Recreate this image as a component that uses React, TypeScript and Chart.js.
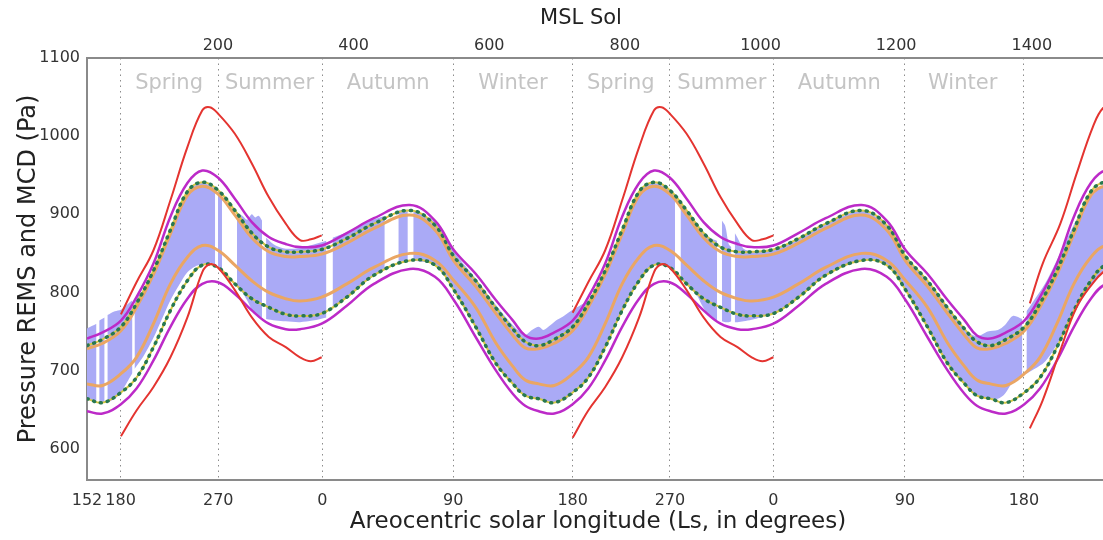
import React, { useEffect, useRef } from 'react';
import { Chart, registerables } from 'chart.js';

Chart.register(...registerables);

const FONT = '"DejaVu Sans", "Liberation Sans", sans-serif';

// ---- axes ----
const X_MIN = 7;
const X_MAX = 1556.5;
const Y_MIN = 560;
const Y_MAX = 1100;
const Y_TICKS = [600, 700, 800, 900, 1000, 1100];
const SOL_TICKS = [200, 400, 600, 800, 1000, 1200, 1400];
const LS_TICK_SOLS = [7, 56.6, 200.5, 353.8, 547, 723, 866.4, 1018.7, 1212.9, 1388.3];
const LS_TICK_LABELS = ['152', '180', '270', '0', '90', '180', '270', '0', '90', '180'];
const TOP_TITLE = 'MSL Sol';
const BOTTOM_TITLE = 'Areocentric solar longitude (Ls, in degrees)';
const Y_TITLE = 'Pressure REMS and MCD (Pa)';

// ---- seasons ----
const SEASON_NAMES = ['Spring', 'Summer', 'Autumn', 'Winter', 'Spring', 'Summer', 'Autumn', 'Winter'];
const SEASON_SOLS = [128, 276, 451, 635, 794, 943, 1116, 1298];

// ---- MCD model curves (sol, Pa) ----
const MCD_SOL = [
  7, 30, 57, 80, 105, 130, 155, 177, 200, 225, 250, 275, 300, 321, 353, 390, 430, 483, 520, 548, 580, 610, 635, 653,
  673, 696, 723, 746, 771, 796, 821, 843, 866, 891, 916, 941, 966, 987, 1019, 1056, 1096, 1149, 1186, 1214, 1246, 1276, 1301, 1319,
  1339, 1362, 1389, 1412, 1437, 1462, 1487, 1509, 1532, 1557,
];
const MAGENTA_UP = [
  741, 749, 764, 794, 837, 897, 940, 956, 947, 920, 890, 871, 862, 858, 860, 876, 895, 912, 892, 854, 824, 790, 764, 745,
  741, 749, 764, 794, 837, 897, 940, 956, 947, 920, 890, 871, 862, 858, 860, 876, 895, 912, 892, 854, 824, 790, 764, 745,
  741, 749, 764, 794, 837, 897, 940, 956, 947, 920,
];
const GREEN_UP = [
  732, 740, 756, 786, 828, 880, 929, 941, 931, 905, 876, 858, 852, 852, 855, 869, 888, 905, 886, 846, 815, 780, 753, 737,
  732, 740, 756, 786, 828, 880, 929, 941, 931, 905, 876, 858, 852, 852, 855, 869, 888, 905, 886, 846, 815, 780, 753, 737,
  732, 740, 756, 786, 828, 880, 929, 941, 931, 905,
];
const ORANGE_UP = [
  728, 735, 751, 781, 823, 875, 924, 936, 926, 899, 870, 852, 846, 846, 849, 863, 882, 899, 880, 840, 808, 773, 745, 729,
  728, 735, 751, 781, 823, 875, 924, 936, 926, 899, 870, 852, 846, 846, 849, 863, 882, 899, 880, 840, 808, 773, 745, 729,
  728, 735, 751, 781, 823, 875, 924, 936, 926, 899,
];
const ORANGE_LO = [
  683, 681, 696, 717, 760, 811, 845, 860, 854, 835, 815, 800, 792, 789, 794, 811, 832, 850, 841, 815, 781, 735, 705, 688,
  683, 681, 696, 717, 760, 811, 845, 860, 854, 835, 815, 800, 792, 789, 794, 811, 832, 850, 841, 815, 781, 735, 705, 688,
  683, 681, 696, 717, 760, 811, 845, 860, 854, 835,
];
const GREEN_LO = [
  664, 659, 672, 691, 730, 777, 815, 835, 832, 811, 792, 781, 772, 770, 773, 794, 822, 841, 835, 803, 756, 709, 683, 668,
  664, 659, 672, 691, 730, 777, 815, 835, 832, 811, 792, 781, 772, 770, 773, 794, 822, 841, 835, 803, 756, 709, 683, 668,
  664, 659, 672, 691, 730, 777, 815, 835, 832, 811,
];
const MAGENTA_LO = [
  648, 645, 657, 677, 713, 756, 792, 811, 813, 798, 777, 760, 753, 753, 760, 783, 811, 830, 820, 790, 743, 700, 670, 655,
  648, 645, 657, 677, 713, 756, 792, 811, 813, 798, 777, 760, 753, 753, 760, 783, 811, 830, 820, 790, 743, 700, 670, 655,
  648, 645, 657, 677, 713, 756, 792, 811, 813, 798,
];

// ---- red curves (spring/summer only) ----
const RED_SOL = [
  57, 80, 105, 130, 155, 177, 188, 200, 225, 250, 275, 300, 321, 337, 353, 360,
  723, 746, 771, 796, 821, 843, 854, 866, 891, 916, 941, 966, 987, 1003, 1019, 1030,
  1397, 1416, 1442, 1466, 1490, 1505, 1520,
];
const RED_UP = [
  772, 813, 854, 918, 986, 1033, 1037, 1029, 1003, 965, 922, 888, 867, 868, 873, null,
  774, 813, 854, 918, 986, 1033, 1037, 1029, 1003, 965, 922, 888, 867, 868, 873, null,
  786, 837, 888, 952, 1012, 1036, 1040,
];
const RED_LO = [
  616, 649, 679, 717, 768, 826, 836, 832, 803, 768, 743, 730, 717, 712, 717, null,
  614, 649, 679, 717, 768, 826, 836, 832, 803, 768, 743, 730, 717, 712, 717, null,
  626, 662, 726, 781, 812, 826, 834,
];

// ---- REMS daily range (band), null = missing data ----
const REMS_SOL = [
  7, 14, 21, 23, 25, 33, 35, 37, 48, 57, 68, 74, 75.5, 77, 90, 105, 118, 130, 143, 155, 166, 177, 188, 196, 198, 200, 206, 217,
  228, 236, 243, 250, 255, 260, 265, 268, 271, 285, 300, 321, 340, 360, 364.5, 369, 390, 420, 446, 451, 457, 461, 466, 480, 484,
  488, 520, 548, 580, 610, 635, 653, 663, 673, 680, 690, 700, 710, 718, 723, 735, 746, 771, 796, 821, 843, 866, 874, 878, 882,
  891, 905, 916, 930, 936, 939.5, 943, 948, 953, 957, 959.5, 962, 966, 975, 987, 1000, 1019, 1037, 1056, 1076, 1096, 1120, 1149,
  1186, 1214, 1246, 1276, 1301, 1319, 1335, 1350, 1360, 1372, 1386, 1389, 1392, 1400, 1420, 1445, 1470, 1490, 1510, 1530,
];
const REMS_MAX = [
  754, 757, 760, null, 764, 768, null, 771, 776, 778, 786, 790, null, 792, 803, 826, 853, 878, 905, 928, 937, 940, 937, 933, null, 931, 925, null,
  903, 898, 893, 900, 896, 898, 892, null, 870, 860, 856, 857, 861, 866, null, 870, 877, 890, 898, null, 903, null, 905, 906, null,
  905, 890, 852, 818, 784, 758, 746, 752, 756, 752, 758, 765, 770, 775, 778, 784, 790, 828, 880, 929, 940, 931, 924, null, 918,
  905, 890, 876, 868, 866, null, 892, 885, 862, 858, null, 876, 870, 856, 853, 853, 855, 861, 869, 878, 888, 897, 905,
  886, 846, 815, 780, 753, 744, 750, 752, 758, 770, 766, null, 776, 786, 812, 856, 900, 925, 940, 942,
];
const REMS_MIN = [
  664, 662, 660, null, 660, 659, null, 659, 664, 672, 688, 697, null, 702, 718, 742, 767, 790, 810, 826, 833, 836, 838, 836, null, 832, 828, null,
  808, 800, 790, 778, 772, 770, 768, null, 766, 764, 763, 762, 764, 768, null, 782, 794, 815, 830, null, 836, null, 839, 841, null,
  841, 835, 803, 756, 709, 683, 668, 664, 664, 662, 660, 660, 662, 667, 672, 682, 691, 730, 777, 815, 835, 832, 828, null, 822,
  811, 798, 780, 765, 764, null, 763, 762, 762, 763, null, 762, 762, 763, 765, 768, 773, 782, 794, 808, 822, 832, 841,
  835, 803, 756, 709, 683, 668, 664, 664, 670, 685, 692, null, 696, 700, 712, 745, 785, 812, 832, 838,
];

const textPlugin = {
  id: 'texts',
  beforeDatasetsDraw(chart: any) {
    const { ctx, chartArea, scales } = chart;
    ctx.save();
    ctx.font = `21px ${FONT}`;
    ctx.fillStyle = '#c4c4c4';
    ctx.textAlign = 'center';
    ctx.textBaseline = 'middle';
    SEASON_NAMES.forEach((name, i) => {
      ctx.fillText(name, scales.x.getPixelForValue(SEASON_SOLS[i]), chartArea.top + 26);
    });
    ctx.restore();
  },
  afterDraw(chart: any) {
    const { ctx } = chart;
    ctx.save();
    ctx.fillStyle = '#222';
    ctx.textAlign = 'center';
    ctx.textBaseline = 'middle';
    ctx.font = `21px ${FONT}`;
    ctx.fillText(TOP_TITLE, 573, 11);
    ctx.font = `23px ${FONT}`;
    ctx.fillText(BOTTOM_TITLE, 590, 514);
    ctx.restore();
  },
};

export default function App() {
  const ref = useRef<HTMLCanvasElement>(null);

  useEffect(() => {
    if (!ref.current) return;
    const toPts = (xs: number[], ys: (number | null)[]) => xs.map((x, i) => ({ x, y: ys[i] }));
    const line = (label: string, xs: number[], ys: (number | null)[], color: string, width: number, extra: any = {}) => ({
      label,
      data: toPts(xs, ys),
      borderColor: color,
      backgroundColor: color,
      borderWidth: width,
      pointRadius: 0,
      fill: false,
      spanGaps: false,
      tension: 0.4,
      ...extra,
    });

    const RED = 'rgb(228,52,48)';
    const MAG = 'rgb(188,42,200)';
    const GREEN = 'rgb(40,120,80)';
    const YEL = 'rgb(214,200,70)';
    const ORA = 'rgb(234,166,100)';
    const BAND = 'rgb(170,170,246)';
    const dots = { borderDash: [1, 6], borderCapStyle: 'round' };

    const chart = new Chart(ref.current, {
      type: 'line',
      data: {
        datasets: [
          line('Red upper', RED_SOL, RED_UP, RED, 2),
          line('Red lower', RED_SOL, RED_LO, RED, 2),
          line('Magenta upper', MCD_SOL, MAGENTA_UP, MAG, 2.5),
          line('Magenta lower', MCD_SOL, MAGENTA_LO, MAG, 2.5),
          line('Green upper', MCD_SOL, GREEN_UP, GREEN, 3.5, dots),
          line('Green lower', MCD_SOL, GREEN_LO, GREEN, 3.5, dots),
          line('Yellow upper', MCD_SOL, GREEN_UP, YEL, 2),
          line('Yellow lower', MCD_SOL, GREEN_LO, YEL, 2),
          line('Orange upper', MCD_SOL, ORANGE_UP, ORA, 3),
          line('Orange lower', MCD_SOL, ORANGE_LO, ORA, 3),
          line('REMS min', REMS_SOL, REMS_MIN, 'rgba(0,0,0,0)', 0, { tension: 0.3 }),
          line('REMS max', REMS_SOL, REMS_MAX, 'rgba(0,0,0,0)', 0, { tension: 0.3, fill: '-1', backgroundColor: BAND }),
        ] as any,
      },
      options: {
        responsive: false,
        maintainAspectRatio: false,
        animation: false,
        devicePixelRatio: 1,
        events: [],
        layout: { padding: 0 },
        plugins: {
          legend: { display: false },
          tooltip: { enabled: false },
          title: { display: false },
          filler: { drawTime: 'beforeDatasetsDraw' },
        } as any,
        scales: {
          x: {
            type: 'linear',
            position: 'bottom',
            min: X_MIN,
            max: X_MAX,
            afterBuildTicks: (s: any) => {
              s.ticks = LS_TICK_SOLS.map((v) => ({ value: v }));
            },
            afterFit: (s: any) => {
              s.height = 60;
            },
            ticks: {
              autoSkip: false,
              maxRotation: 0,
              padding: 11,
              color: '#333',
              font: { family: FONT, size: 16 },
              callback: (_v: any, i: number) => LS_TICK_LABELS[i],
            },
            grid: { display: true, drawOnChartArea: true, drawTicks: false, color: '#8c8c8c', lineWidth: 1 },
            border: { display: true, color: '#8a8a8a', width: 2, dash: [1.5, 4] },
            title: { display: false },
          },
          x2: {
            type: 'linear',
            position: 'top',
            min: X_MIN,
            max: X_MAX,
            afterBuildTicks: (s: any) => {
              s.ticks = SOL_TICKS.map((v) => ({ value: v }));
            },
            afterFit: (s: any) => {
              s.height = 50;
            },
            ticks: {
              autoSkip: false,
              maxRotation: 0,
              padding: 3,
              color: '#333',
              font: { family: FONT, size: 16 },
              callback: (v: any) => String(v),
            },
            grid: { display: false, drawTicks: false },
            border: { display: true, color: '#8a8a8a', width: 2 },
            title: { display: false },
          },
          y: {
            type: 'linear',
            min: Y_MIN,
            max: Y_MAX,
            afterBuildTicks: (s: any) => {
              s.ticks = Y_TICKS.map((v) => ({ value: v }));
            },
            afterFit: (s: any) => {
              s.width = 79;
            },
            ticks: {
              padding: 7,
              color: '#333',
              font: { family: FONT, size: 16 },
              callback: (v: any) => String(v),
            },
            grid: { display: false, drawTicks: false },
            border: { display: true, color: '#8a8a8a', width: 2 },
            title: {
              display: true,
              text: Y_TITLE,
              color: '#222',
              font: { family: FONT, size: 24 },
              padding: { top: 6, bottom: 0 },
            },
          },
        } as any,
      },
      plugins: [textPlugin as any],
    });
    return () => chart.destroy();
  }, []);

  return (
    <div
      style={{
        position: 'fixed',
        left: 8,
        top: 8,
        width: 1095,
        height: 532,
        overflow: 'hidden',
        background: '#fff',
      }}
    >
      <canvas ref={ref} width={1130} height={532} style={{ display: 'block' }} />
    </div>
  );
}
